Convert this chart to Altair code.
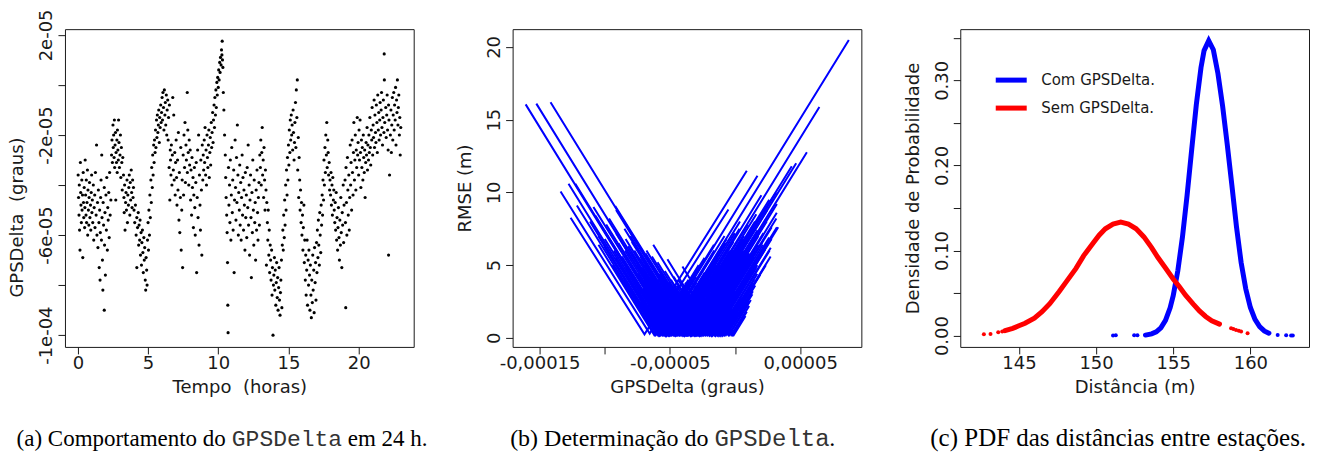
import altair as alt
import pandas as pd

INK = "#1a1a1a"
SANS = "DejaVu Sans"
SERIF = "Liberation Serif"
MONO = "Liberation Mono"
NB = "\u00a0"
W, H = 349, 318

# ---------------- (a) GPSDelta ao longo do dia (valores em 1e-6 graus) ----------------
pts_00_06 = [(0.02,-36),(0.05,-45),(0.08,-52),(0.1,-40),(0.12,-58),(0.15,-66),(0.18,-31),(0.2,-43),(0.22,-48),(0.25,-55),
 (0.28,-38),(0.3,-50),(0.33,-44),(0.35,-69),(0.38,-35),(0.4,-47),(0.42,-53),(0.45,-41),(0.48,-57),(0.5,-49),(0.52,-30),
 (0.55,-44),(0.58,-52),(0.6,-38),(0.62,-55),(0.65,-47),(0.68,-34),(0.7,-60),(0.72,-42),(0.75,-50),(0.78,-56),(0.8,-45),
 (0.83,-39),(0.86,-53),(0.9,-48),(0.92,-58),(0.95,-43),(0.98,-36),(1.0,-51),(1.03,-46),(1.06,-55),(1.1,-40),(1.13,-62),
 (1.16,-49),(1.2,-44),(1.22,-57),(1.25,-35),(1.3,-52),(1.33,-24),(1.36,-60),(1.4,-47),(1.43,-65),(1.46,-42),(1.5,-55),
 (1.52,-73),(1.55,-50),(1.58,-78),(1.6,-59),(1.62,-45),(1.65,-38),(1.68,-62),(1.7,-28),(1.72,-53),(1.75,-70),(1.78,-82),
 (1.8,-47),(1.83,-56),(1.88,-90),(1.88,-41),(1.9,-64),(1.93,-51),(1.96,-76),(2.0,-44),(2.03,-58),(2.06,-37),(2.1,-66),
 (2.13,-49),(2.16,-54),(2.2,-43),(2.23,-61),(2.26,-35),(2.3,-52),(2.35,-46),(2.4,-28),(2.43,-22),(2.46,-31),(2.5,-16),
 (2.52,-25),(2.55,-20),(2.58,-29),(2.6,-14),(2.62,-33),(2.65,-24),(2.68,-19),(2.7,-46),(2.72,-27),(2.75,-31),(2.78,-22),
 (2.8,-35),(2.82,-18),(2.85,-26),(2.88,-30),(2.9,-14),(2.93,-23),(2.96,-33),(3.0,-28),(3.03,-20),(3.06,-37),(3.1,-25),
 (3.13,-31),(3.16,-42),(3.2,-29),(3.25,-36),(3.28,-45),(3.3,-51),(3.33,-40),(3.36,-58),(3.4,-47),(3.43,-43),(3.46,-50),
 (3.5,-38),(3.53,-55),(3.56,-44),(3.6,-48),(3.63,-41),(3.66,-36),(3.7,-52),(3.73,-39),(3.76,-46),(3.8,-34),(3.83,-43),
 (3.86,-49),(3.9,-38),(3.93,-45),(3.96,-41),(4.0,-50),(4.05,-55),(4.1,-48),(4.15,-60),(4.2,-53),(4.2,-73),(4.25,-57),
 (4.3,-51),(4.33,-64),(4.36,-56),(4.4,-62),(4.43,-54),(4.46,-68),(4.5,-59),(4.53,-72),(4.56,-63),(4.6,-58),(4.63,-67),
 (4.66,-75),(4.7,-61),(4.73,-70),(4.76,-65),(4.8,-78),(4.83,-82),(4.86,-69),(4.9,-74),(4.93,-80),(4.96,-62),(5.0,-55),
 (5.03,-66),(5.06,-50),(5.1,-60),(5.13,-44),(5.16,-53),(5.2,-38),(5.23,-47),(5.26,-33),(5.3,-41),(5.33,-28),(5.36,-36),
 (5.4,-24),(5.43,-31),(5.46,-22),(5.5,-27),(5.53,-18),(5.56,-25),(5.6,-14),(5.63,-21),(5.66,-12),(5.7,-19),(5.73,-16),
 (5.76,-10),(5.8,-23),(5.83,-13),(5.86,-17),(5.9,-8),(5.93,-15),(5.96,-11)]
pts_06_12 = [(6.0,-5),(6.03,-14),(6.06,-3),(6.1,-9),(6.13,-18),(6.16,-2),(6.2,-12),(6.23,-7),(6.26,-16),(6.3,-4),(6.33,-20),
 (6.36,-10),(6.4,-6),(6.43,-22),(6.46,-13),(6.5,-33),(6.52,-8),(6.55,-46),(6.58,-26),(6.6,-30),(6.63,-36),(6.66,-24),
 (6.7,-40),(6.73,-28),(6.76,-5),(6.8,-34),(6.83,-12),(6.86,-38),(6.9,-27),(6.93,-44),(6.96,-31),(7.0,-22),(7.03,-37),
 (7.06,-48),(7.1,-30),(7.13,-42),(7.16,-19),(7.2,-54),(7.23,-35),(7.26,-59),(7.3,-45),(7.33,-25),(7.36,-66),(7.4,-50),
 (7.43,-38),(7.46,-73),(7.5,-28),(7.53,-44),(7.56,-20),(7.6,-33),(7.63,-15),(7.66,-39),(7.7,-24),(7.73,-30),(7.79,-3),
 (7.8,-35),(7.83,-18),(7.86,-27),(7.9,-40),(7.93,-22),(7.96,-32),(8.0,-26),(8.03,-46),(8.06,-34),(8.1,-52),(8.13,-29),
 (8.16,-41),(8.2,-37),(8.23,-57),(8.26,-44),(8.3,-33),(8.33,-49),(8.36,-60),(8.4,-39),(8.43,-31),(8.46,-75),(8.5,-45),
 (8.53,-26),(8.56,-53),(8.6,-20),(8.63,-64),(8.66,-36),(8.7,-48),(8.73,-58),(8.76,-30),(8.8,-42),(8.83,-68),(8.86,-24),
 (8.9,-38),(8.93,-28),(8.96,-34),(9.0,-22),(9.03,-31),(9.06,-17),(9.1,-36),(9.13,-26),(9.16,-40),(9.2,-20),(9.23,-29),
 (9.26,-33),(9.3,-24),(9.33,-18),(9.36,-37),(9.4,-27),(9.43,-21),(9.46,-32),(9.5,-15),(9.53,-25),(9.56,-19),(9.6,-11),
 (9.63,-23),(9.66,-14),(9.7,-8),(9.73,-17),(9.76,-5),(9.8,-12),(9.83,-2),(9.86,-9),(9.9,1),(9.93,-4),(9.96,3),(10.0,-1),
 (10.03,6),(10.06,2),(10.1,9),(10.13,5),(10.16,11),(10.2,8),(10.23,14),(10.26,12),(10.28,17.5),(10.3,10),(10.33,7),
 (10.36,-3),(10.4,-10),(10.45,-20),(10.5,-28),(10.53,-37),(10.56,-45),(10.6,-52),(10.63,-59),(10.66,-71),(10.68,-88),
 (10.7,-99),(10.73,-33),(10.76,-48),(10.8,-40),(10.83,-55),(10.86,-30),(10.9,-62),(10.93,-44),(10.96,-25),(11.0,-51),
 (11.03,-38),(11.06,-58),(11.1,-34),(11.13,-75),(11.16,-46),(11.2,-22),(11.23,-41),(11.26,-54),(11.3,-29),(11.33,-47),
 (11.36,-16),(11.4,-36),(11.43,-60),(11.46,-43),(11.5,-50),(11.53,-32),(11.56,-56),(11.6,-39),(11.63,-62),(11.66,-45),
 (11.7,-28),(11.73,-52),(11.76,-37),(11.8,-58),(11.83,-42),(11.86,-48),(11.9,-66),(11.93,-35),(11.96,-53)]
pts_12_18 = [(12.0,-44),(12.03,-61),(12.06,-33),(12.1,-49),(12.13,-24),(12.16,-56),(12.2,-40),(12.23,-68),(12.26,-46),
 (12.3,-36),(12.33,-53),(12.36,-77),(12.4,-43),(12.43,-59),(12.46,-30),(12.5,-50),(12.53,-64),(12.56,-38),(12.6,-55),
 (12.63,-47),(12.66,-70),(12.7,-42),(12.73,-58),(12.76,-34),(12.8,-51),(12.83,-62),(12.86,-45),(12.9,-39),(12.93,-56),
 (12.96,-28),(13.0,-33),(13.03,-22),(13.06,-40),(13.1,-27),(13.13,-17),(13.16,-36),(13.2,-30),(13.23,-45),(13.26,-25),
 (13.3,-38),(13.33,-50),(13.36,-34),(13.4,-42),(13.43,-72),(13.46,-47),(13.5,-55),(13.53,-62),(13.56,-50),(13.6,-68),
 (13.63,-58),(13.66,-75),(13.7,-64),(13.73,-70),(13.76,-78),(13.8,-66),(13.83,-84),(13.86,-73),(13.9,-100),(13.93,-80),
 (13.96,-76),(14.0,-69),(14.03,-82),(14.06,-74),(14.1,-88),(14.13,-79),(14.16,-71),(14.2,-85),(14.23,-77),(14.26,-90),
 (14.3,-81),(14.33,-73),(14.36,-86),(14.4,-92),(14.43,-83),(14.46,-78),(14.5,-70),(14.53,-89),(14.56,-64),(14.6,-58),
 (14.63,-66),(14.66,-52),(14.7,-61),(14.73,-46),(14.76,-56),(14.8,-40),(14.83,-50),(14.86,-34),(14.9,-44),(14.93,-29),
 (14.96,-38),(15.0,-24),(15.03,-32),(15.06,-18),(15.1,-27),(15.13,-14),(15.16,-22),(15.2,-12),(15.23,-20),(15.26,-16),
 (15.3,-26),(15.33,-10),(15.36,-19),(15.4,-30),(15.43,-23),(15.46,-15),(15.5,-7),(15.53,-25),(15.56,-2),(15.6,-13),
 (15.63,2),(15.66,-34),(15.7,-21),(15.73,-45),(15.76,-29),(15.8,-38),(15.83,-50),(15.86,-42),(15.9,-55),(15.93,-47),
 (15.96,-60),(16.0,-52),(16.03,-66),(16.06,-57),(16.1,-48),(16.13,-71),(16.16,-62),(16.2,-78),(16.23,-68),(16.26,-84),
 (16.3,-74),(16.33,-62),(16.36,-88),(16.4,-70),(16.43,-80),(16.46,-66),(16.5,-76),(16.53,-90),(16.56,-72),(16.6,-84),
 (16.63,-93),(16.66,-78),(16.7,-87),(16.73,-68),(16.76,-82),(16.8,-74),(16.83,-91),(16.86,-65),(16.9,-79),(16.93,-71),
 (16.96,-86),(17.0,-63),(17.03,-75),(17.06,-58),(17.1,-69),(17.13,-54),(17.16,-64),(17.2,-72),(17.23,-51),(17.26,-60),
 (17.3,-67),(17.33,-48),(17.36,-56),(17.4,-44),(17.43,-52),(17.46,-38),(17.5,-46),(17.53,-30),(17.56,-40),(17.6,-25),
 (17.63,-35),(17.66,-20),(17.7,-28),(17.73,-15),(17.76,-33),(17.8,-22),(17.83,-27),(17.86,-36),(17.9,-31),(17.93,-42),
 (17.96,-38)]
pts_18_23 = [(18.0,-44),(18.03,-35),(18.06,-48),(18.1,-40),(18.13,-52),(18.16,-37),(18.2,-46),(18.23,-42),(18.26,-50),
 (18.3,-55),(18.33,-47),(18.36,-58),(18.4,-43),(18.43,-62),(18.46,-53),(18.5,-66),(18.53,-57),(18.56,-49),(18.6,-61),
 (18.63,-70),(18.66,-54),(18.7,-64),(18.73,-45),(18.76,-59),(18.8,-73),(18.83,-51),(18.86,-56),(18.9,-40),(18.93,-63),
 (18.96,-48),(19.08,-89),(19.03,-38),(19.06,-55),(19.1,-33),(19.13,-47),(19.16,-60),(19.2,-29),(19.23,-42),(19.26,-52),
 (19.3,-36),(19.33,-58),(19.36,-45),(19.4,-24),(19.43,-40),(19.46,-31),(19.5,-50),(19.53,-22),(19.56,-35),(19.6,-44),
 (19.63,-27),(19.66,-15),(19.7,-38),(19.73,-30),(19.76,-20),(19.8,-42),(19.83,-26),(19.86,-33),(19.9,-13),(19.93,-28),
 (19.96,-23),(20.0,-36),(20.03,-18),(20.06,-30),(20.1,-14),(20.13,-27),(20.16,-41),(20.2,-22),(20.23,-33),(20.26,-25),
 (20.3,-38),(20.33,-20),(20.36,-29),(20.4,-35),(20.43,-26),(20.46,-45),(20.5,-31),(20.53,-23),(20.56,-28),(20.6,-17),
 (20.63,-34),(20.66,-24),(20.7,-30),(20.73,-20),(20.76,-27),(20.8,-13),(20.83,-25),(20.86,-32),(20.9,-18),(20.93,-22),
 (20.96,-9),(21.0,-28),(21.03,-16),(21.06,-21),(21.1,-6),(21.13,-25),(21.16,-12),(21.2,-19),(21.23,-23),(21.26,-8),
 (21.3,-15),(21.33,-27),(21.36,-4),(21.4,-18),(21.43,-11),(21.46,-22),(21.5,-14),(21.53,-7),(21.56,-20),(21.6,-10),
 (21.63,-3),(21.66,-17),(21.7,-24),(21.73,-13),(21.76,-6),(21.8,-19),(21.83,2),(21.86,-15),(21.82,12.4),(21.93,-9),
 (21.96,-21),(22.0,-12),(22.03,-4),(22.06,-18),(22.1,-26),(22.13,-8),(22.16,-14),(22.2,-36),(22.13,-68),(22.26,-20),
 (22.3,-10),(22.33,-27),(22.36,-16),(22.4,-5),(22.43,-22),(22.46,-12),(22.5,-3),(22.53,-18),(22.56,-8),(22.6,-14),
 (22.63,-1),(22.66,-24),(22.7,-6),(22.73,-11),(22.76,2),(22.8,-16),(22.83,-9),(22.86,-4),(22.9,-20),(22.93,-13),
 (22.96,-28),(23.0,-17)]

A_X_TICKS = [0, 5, 10, 15, 20]
A_Y_TICKS = [-100, -80, -60, -40, -20, 0, 20]
A_Y_LABELS = ["-1e-04", "", "-6e-05", "", "-2e-05", "", "2e-05"]

# ---------------- (b) RMSE vs GPSDelta (x em 1e-6 graus) ----------------
# each V: left end (x, RMSE), vertex (x, RMSE), right end (x, RMSE)
v_esq_x = [-160.7,-152.5,-141.6,-133.9,-126.2,-100.4,-84.9,-122.6,-77.3,-38.3,-43.6,-23.1,-69.6,-92.0,
 -104.8,-121.4,-104.9,-127.8,-91.6,-93.0,-101.4,-79.7,-108.7,-80.1,-89.5,-70.2,-91.3,-79.6,-82.1,-65.6,-72.9,-79.2,
 -56.8,-91.3,-64.1,-58.0,-68.0,-50.8,-59.5,-49.2,-41.3,-62.8,-33.9,-51.9,-31.9,-32.7,-22.4,-40.4,-15.7,-9.9,-5.8,
 -66.4,-52.1,
 -72.9,-74.7,-63.5,-66.9,-64.3,-55.8,-62.5,-48.9,-49.6,-40.2,-46.3,-37.8,-32.0,-32.2,-21.3,-22.7,-12.6,-7.5,
 -94.1,-85.2,-111.3,-79.0,-100.0,-83.7,-107.1,-86.8,-70.6,-98.9,-74.5,-84.5,-75.6,-96.7,-71.2,-84.0,-62.3,-72.8,
 -62.1,-80.4,-58.7,-68.6,-50.2,-57.9,-63.8,-46.6,-53.9,-45.0,-47.1,-36.8,-32.1,-38.3,-26.7,-28.8,-19.4,-14.2,
 -67.3,-58.5,-52.9,-43.7,-39.5,-32.2,-23.3,-15.4]
v_esq_y = [16.05,16.1,16.2,10.06,8.26,6.3,7.5,10.6,6.0,3.0,4.0,2.2,5.0,9.07,
 6.4,9.1,7.0,10.6,5.5,6.0,7.5,4.5,9.0,5.0,6.5,4.0,7.2,5.8,6.3,4.2,5.4,6.6,
 3.5,8.8,5.0,4.4,6.0,3.8,5.2,4.0,3.0,6.4,2.5,5.4,2.8,3.2,2.0,4.9,1.6,1.2,0.9,
 4.6,3.4,
 2.5,3.2,1.8,2.8,3.0,2.2,3.6,2.0,2.6,1.6,3.0,2.2,1.8,2.4,1.4,1.9,1.3,1.0,
 5.0,4.0,8.0,3.6,6.8,4.8,8.4,5.6,3.4,7.8,4.4,6.0,5.0,8.2,4.8,6.8,3.8,5.6,
 4.2,7.0,4.0,5.8,3.2,4.6,5.6,3.4,4.6,3.6,4.2,3.0,2.6,3.8,2.4,3.0,2.0,1.6,
 2.2,1.8,2.0,1.6,1.8,1.6,1.4,1.2]
v_vert_x = [-52.0,-43.0,-31.4,-65.5,-69.5,-58.3,-34.5,-50.8,-37.3,-19.0,-17.4,-9.3,-36.5,-30.8,
 -62,-60,-58,-56,-55,-53,-51,-50,-48,-47,-46,-44,-43,-41,-40,-38,-37,-35,
 -34,-32,-31,-29,-28,-26,-25,-23,-22,-20,-18,-16,-14,-12,-10,-8,-6,-3,-1,
 -36,-30,
 -57,-54,-52.5,-49,-45,-42,-39,-36.5,-33,-30.5,-27,-24,-21,-17,-13,-11,-5,-2,
 -61,-59,-57.5,-55.5,-54.5,-52,-50.5,-49.5,-48.5,-46.5,-45.5,-44.5,-42.5,-41.5,-39.5,-38.5,-37.5,-35.5,
 -34.5,-33.5,-32.5,-30,-29.5,-27.5,-26.5,-24.5,-23.5,-21.5,-19.5,-17.5,-15.5,-13.5,-11.5,-9.5,-7,-4.5,
 -53.5,-47.5,-40.5,-34,-28.5,-22.5,-15,-8.5]
v_vert_y = [0.25,0.2,0.2,0.3,0.25,0.2,0.2,0.15,0.2,0.2,0.15,0.2,0.2,0.25,
 0.2,0.25,0.15,0.2,0.2,0.15,0.2,0.2,0.25,0.2,0.15,0.2,0.2,0.2,0.15,0.2,0.2,0.25,
 0.2,0.2,0.15,0.2,0.2,0.15,0.2,0.2,0.25,0.2,0.15,0.2,0.2,0.2,0.15,0.2,0.25,0.2,0.2,
 0.2,0.15,
 0.2,0.2,0.15,0.2,0.2,0.2,0.15,0.2,0.2,0.2,0.15,0.2,0.2,0.2,0.15,0.2,0.2,0.2,
 0.2,0.15,0.2,0.2,0.25,0.2,0.15,0.2,0.2,0.2,0.15,0.2,0.2,0.25,0.2,0.15,0.2,0.2,
 0.2,0.15,0.2,0.2,0.2,0.15,0.2,0.2,0.25,0.2,0.15,0.2,0.2,0.2,0.15,0.2,0.2,0.2,
 0.15,0.2,0.2,0.15,0.2,0.2,0.15,0.2]
v_dir_x = [87.3,64.7,55.1,-5.1,9.0,17.2,46.9,-7.3,23.1,32.1,23.1,19.3,43.5,9.2,
 -35.8,-23.4,-37.3,-16.0,-8.1,-23.3,-7.5,3.8,-14.9,3.4,20.2,-4.0,-6.4,16.3,6.9,26.2,4.4,17.4,
 0.5,13.5,24.2,17.9,10.6,32.0,17.8,28.1,14.6,26.2,33.1,17.1,27.4,17.0,27.3,15.5,13.3,10.8,8.0,
 31.6,32.1,
 -37.7,-38.8,-29.0,-21.4,-25.7,-10.3,-22.4,-11.7,-6.8,-8.4,-9.1,6.4,-0.3,9.2,4.9,13.2,10.9,9.0,
 -27.9,-16.2,-29.9,-18.2,-29.7,-6.5,-20.1,-13.6,-0.2,-20.3,-1.3,-11.4,9.9,-1.5,6.0,15.3,-1.6,11.4,
 24.8,6.5,17.2,14.2,24.3,11.1,21.8,15.5,31.7,21.3,16.4,28.0,16.2,26.5,14.7,23.6,13.7,12.1,
 -41.1,-32.3,-26.7,-21.6,-13.3,-8.7,-2.6,2.5]
v_dir_y = [20.48,15.87,12.76,8.83,11.49,11.14,12.0,6.5,8.95,7.61,6.07,4.34,11.8,6.0,
 4.0,5.5,3.2,6.0,7.0,4.5,6.5,8.0,5.0,7.5,9.8,6.0,5.5,8.5,7.0,9.5,6.2,7.8,
 5.2,6.8,8.2,7.0,5.8,8.6,6.4,7.6,5.5,6.9,7.6,5.0,6.2,4.4,5.6,3.6,3.0,2.2,1.5,
 10.0,9.2,
 3.0,2.4,3.6,4.2,3.0,4.8,2.6,3.8,4.0,3.4,2.8,4.6,3.2,4.0,2.8,3.7,2.5,1.8,
 5.0,6.4,4.2,5.6,3.8,6.8,4.6,5.4,7.2,4.0,6.6,5.0,7.8,6.0,6.8,8.0,5.4,7.0,
 8.8,6.0,7.4,6.6,8.0,5.8,7.2,6.0,8.2,6.4,5.4,6.8,4.8,6.0,4.0,5.0,3.2,2.6,
 2.0,2.4,2.2,2.0,2.4,2.2,2.0,1.8]

B_X_TICKS = [-150, -100, -50, 0, 50]
B_X_LABELS = ["-0,00015", "", "-0,00005", "", "0,00005"]
B_Y_TICKS = [0, 5, 10, 15, 20]
B_Y_LABELS = ["0", "5", "10", "15", "20"]

# ---------------- (c) PDF das distancias ----------------
SERIES = ["Com GPSDelta.", "Sem GPSDelta."]
COLORS = ["#0000FF", "#FF0000"]
com_x = [153.2,153.6,153.9,154.2,154.5,154.8,155.0,155.3,155.6,155.9,156.2,156.5,156.8,157.0,157.3,157.6,157.9,
         158.2,158.5,158.8,159.1,159.4,159.7,160.0,160.3,160.6,160.9,161.2]
com_y = [0.0006,0.002,0.0044,0.0092,0.0179,0.0326,0.0469,0.0764,0.116,0.165,0.219,0.272,0.315,0.335,0.3467,0.336,
         0.308,0.27,0.225,0.177,0.128,0.086,0.055,0.033,0.019,0.0105,0.0055,0.0028]
com_pts_x = [151.1, 151.28, 152.47, 152.68, 161.77, 162.32, 162.64, 162.75]
com_pts_y = [0.0002, 0.0003, 0.0004, 0.0005, 0.0008, 0.0004, 0.0002, 0.0002]
sem_x = [144.1,144.6,145.0,145.4,146.0,146.5,147.0,147.6,148.1,148.7,149.2,149.8,150.2,150.6,151.1,151.6,152.1,
         152.6,153.1,153.6,154.0,154.5,155.0,155.4,155.8,156.3,156.7,157.1,157.5,158.0]
sem_y = [0.0059,0.0085,0.0115,0.0145,0.0205,0.028,0.0375,0.0516,0.064,0.079,0.094,0.1085,0.118,0.1255,0.131,0.1333,
         0.131,0.1255,0.116,0.1035,0.092,0.0795,0.0665,0.0574,0.0475,0.037,0.029,0.0225,0.0175,0.0135]
sem_pts_x = [142.73, 143.16, 143.66, 143.92, 158.75, 158.9, 159.07, 159.25, 159.40, 159.82]
sem_pts_y = [0.0016, 0.0018, 0.004, 0.0047, 0.0087, 0.0077, 0.0067, 0.0057, 0.0047, 0.0028]

C_X_TICKS = [145, 150, 155, 160]
C_Y_TICKS = [0, 0.05, 0.1, 0.15, 0.2, 0.25, 0.3, 0.35]
C_Y_LABELS = ["0.00", "", "0.10", "", "0.20", "", "0.30", ""]

CAPTIONS = {
    "a": ["(a) Comportamento do", "GPSDelta", "em 24 h."],
    "b": ["(b) Determinação do", "GPSDelta", "."],
    "c": ["(c) PDF das distâncias entre estações."],
}


def label_expr(values, labels):
    s = "''"
    for v, t in reversed(list(zip(values, labels))):
        s = f"abs(datum.value - ({v})) < 1e-9 ? '{t}' : ({s})"
    return s


def x_axis(values, title, labels=None):
    kw = dict(values=values, title=title, domain=False, grid=False, tickSize=7, tickColor=INK, tickWidth=1,
              labelFont=SANS, labelFontSize=18, labelColor=INK, labelPadding=1, labelFlush=False,
              labelOverlap=False, titleFont=SANS, titleFontSize=18, titleFontWeight="normal", titleColor=INK,
              titleBaseline="alphabetic", titleY=46)
    if labels is not None:
        kw["labelExpr"] = label_expr(values, labels)
    return alt.Axis(**kw)


def y_axis(values, title, labels, title_y, title_x=-47):
    return alt.Axis(values=values, title=title, labelExpr=label_expr(values, labels), domain=False, grid=False,
                    tickSize=7, tickColor=INK, tickWidth=1, labelFont=SANS, labelFontSize=18, labelColor=INK,
                    labelAngle=270, labelAlign="center", labelBaseline="alphabetic", labelPadding=6,
                    labelFlush=False, labelOverlap=False, titleFont=SANS, titleFontSize=18,
                    titleFontWeight="normal", titleColor=INK, titleAngle=270, titleAlign="center",
                    titleBaseline="middle", titleX=title_x, titleY=title_y)


def caption_layers(parts_pos, size):
    layers = []
    for text, font, color, align, xpos in parts_pos:
        layers.append(
            alt.Chart(pd.DataFrame({"t": [text]})).mark_text(
                font=font, fontSize=size, color=color, align=align, baseline="alphabetic"
            ).encode(text="t:N", x=alt.value(xpos), y=alt.value(417))
        )
    return layers


# ---- panel a
rows_a = pts_00_06 + pts_06_12 + pts_12_18 + pts_18_23
df_a = pd.DataFrame(rows_a, columns=["hora", "gps"])
pa_pts = alt.Chart(df_a).mark_circle(size=10, color="black", opacity=1).encode(
    x=alt.X("hora:Q", scale=alt.Scale(domain=[-0.92, 23.92], nice=False, zero=False),
            axis=x_axis(A_X_TICKS, "Tempo" + NB + " (horas)")),
    y=alt.Y("gps:Q", scale=alt.Scale(domain=[-104.7, 22.3], nice=False, zero=False),
            axis=y_axis(A_Y_TICKS, "GPSDelta" + NB + " (graus)", A_Y_LABELS, 188)),
)
cap_a = CAPTIONS["a"]
pa = alt.layer(pa_pts, *caption_layers([
    (cap_a[0], SERIF, "black", "right", 161), (cap_a[1], MONO, "#333333", "left", 167),
    (cap_a[2], SERIF, "black", "left", 283)
], 23)).properties(width=W, height=H)

# ---- panel b
rows_b = []
for i in range(len(v_vert_x)):
    rows_b.append({"v": i, "o": 0, "x": v_esq_x[i], "y": v_esq_y[i]})
    rows_b.append({"v": i, "o": 1, "x": v_vert_x[i], "y": v_vert_y[i]})
    rows_b.append({"v": i, "o": 2, "x": v_dir_x[i], "y": v_dir_y[i]})
df_b = pd.DataFrame(rows_b)
pb_lines = alt.Chart(df_b).mark_line(color="#0000FF", strokeWidth=2).encode(
    x=alt.X("x:Q", scale=alt.Scale(domain=[-170.7, 96.9], nice=False, zero=False),
            axis=x_axis(B_X_TICKS, "GPSDelta (graus)", B_X_LABELS)),
    y=alt.Y("y:Q", scale=alt.Scale(domain=[-0.62, 21.22], nice=False, zero=False),
            axis=y_axis(B_Y_TICKS, "RMSE (m)", B_Y_LABELS, 159)),
    detail="v:N",
    order="o:Q",
)
cap_b = CAPTIONS["b"]
pb = alt.layer(pb_lines, *caption_layers([
    (cap_b[0], SERIF, "black", "right", 196), (cap_b[1], MONO, "#333333", "left", 202),
    (cap_b[2], SERIF, "black", "left", 317)
], 24)).properties(width=W, height=H)

# ---- panel c
df_c = pd.DataFrame(
    [{"d": x, "p": y, "serie": SERIES[0]} for x, y in zip(com_x, com_y)]
    + [{"d": x, "p": y, "serie": SERIES[1]} for x, y in zip(sem_x, sem_y)]
)
xc = alt.X("d:Q", scale=alt.Scale(domain=[141.2, 163.8], nice=False, zero=False),
           axis=x_axis(C_X_TICKS, "Distância (m)"))
yc = alt.Y("p:Q", scale=alt.Scale(domain=[-0.0133, 0.3602], nice=False, zero=False),
           axis=y_axis(C_Y_TICKS, "Densidade de Probabilidade", C_Y_LABELS, 159))
pc_lines = alt.Chart(df_c).mark_line(strokeWidth=5, strokeCap="round").encode(
    x=xc, y=yc,
    color=alt.Color("serie:N", scale=alt.Scale(domain=SERIES, range=COLORS),
                    legend=alt.Legend(orient="none", legendX=33, legendY=33, title=None, symbolType="stroke",
                                      symbolStrokeWidth=5, symbolSize=961, labelFont=SANS, labelFontSize=15,
                                      labelColor=INK, labelOffset=12, padding=0, rowPadding=-9,
                                      labelLimit=300)),
)
pc_blue = alt.Chart(pd.DataFrame({"d": com_pts_x, "p": com_pts_y})).mark_circle(
    size=16, color=COLORS[0], opacity=1).encode(x=xc, y=yc)
pc_red = alt.Chart(pd.DataFrame({"d": sem_pts_x, "p": sem_pts_y})).mark_circle(
    size=16, color=COLORS[1], opacity=1).encode(x=xc, y=yc)
cap_c = CAPTIONS["c"]
pc = alt.layer(pc_lines, pc_blue, pc_red, *caption_layers([
    (cap_c[0], SERIF, "black", "left", -30)
], 25)).properties(width=W, height=H)

chart = alt.hconcat(pa, pb, pc, spacing=99, bounds="flush").resolve_scale(
    color="independent").resolve_legend(color="independent").configure_view(
    stroke=INK, strokeWidth=1).properties(padding=0, background="white")

chart.save("out.html", embed_options={"renderer": "svg", "actions": False})
